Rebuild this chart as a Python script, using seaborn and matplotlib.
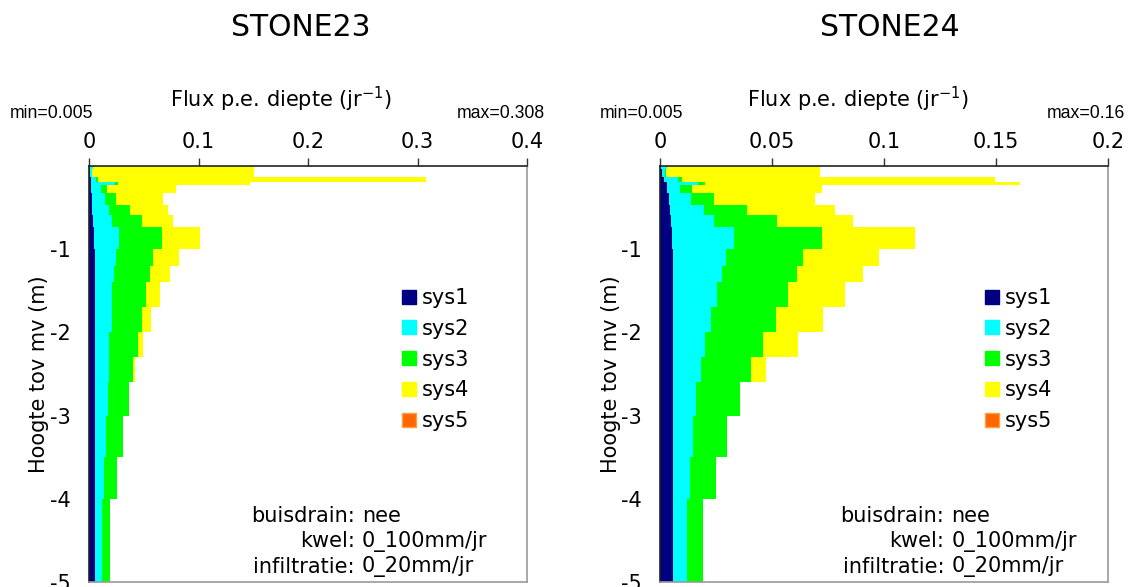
import numpy as np
import pandas as pd
import matplotlib
matplotlib.use("Agg")
import matplotlib.pyplot as plt
from matplotlib.patches import Patch
import seaborn as sns

# ---------------- data ----------------
systems = ["sys1", "sys2", "sys3", "sys4", "sys5"]
colors = {"sys1": "#000080", "sys2": "#00FFFF", "sys3": "#00FF00",
          "sys4": "#FFFF00", "sys5": "#FF6600"}

# layer boundaries (m below surface)
layer_top = [0, 0.04, 0.13, 0.19, 0.23, 0.33, 0.47, 0.59, 0.73, 1.0,
             1.2, 1.4, 1.7, 2.0, 2.3, 2.6, 3.0, 3.5, 4.0]
layer_bottom = [0.04, 0.13, 0.19, 0.23, 0.33, 0.47, 0.59, 0.73, 1.0, 1.2,
                1.4, 1.7, 2.0, 2.3, 2.6, 3.0, 3.5, 4.0, 5.0]

# STONE23 flux per depth (1/yr)
s23_sys1 = [0.0005, 0.001, 0.0015, 0.002, 0.002, 0.0025, 0.003, 0.0035, 0.0045, 0.0055,
            0.0055, 0.0055, 0.0055, 0.0055, 0.0055, 0.0055, 0.0055, 0.0055, 0.0055]
s23_sys2 = [0.0029, 0.002, 0.0049, 0.0219, 0.0087, 0.0122, 0.0156, 0.0173, 0.0233, 0.0193,
            0.0174, 0.0159, 0.0153, 0.0132, 0.0132, 0.0116, 0.0101, 0.0083, 0.0061]
s23_sys3 = [0.0, 0.0, 0.0021, 0.003, 0.0055, 0.0101, 0.019, 0.0275, 0.0389, 0.0336,
            0.0331, 0.0309, 0.0275, 0.0256, 0.0214, 0.0196, 0.0153, 0.0116, 0.0077]
s23_sys4 = [0.1476, 0.148, 0.2995, 0.1201, 0.0636, 0.0428, 0.0342, 0.0285, 0.0345, 0.0235,
            0.0177, 0.0122, 0.0083, 0.005, 0.0021, 0.0, 0.0, 0.0, 0.0]
s23_sys5 = [0.0] * 19

# STONE24 flux per depth (1/yr)
s24_sys1 = [0.0005, 0.001, 0.002, 0.003, 0.003, 0.004, 0.0045, 0.005, 0.0055, 0.006,
            0.006, 0.006, 0.006, 0.006, 0.006, 0.006, 0.006, 0.006, 0.006]
s24_sys2 = [0.0025, 0.0012, 0.0062, 0.0141, 0.0059, 0.0097, 0.0151, 0.0191, 0.0275, 0.0235,
            0.0215, 0.0196, 0.0168, 0.0141, 0.0122, 0.0099, 0.0089, 0.0074, 0.0059]
s24_sys3 = [0.0, 0.0003, 0.0015, 0.003, 0.0052, 0.0104, 0.0191, 0.028, 0.0395, 0.0345,
            0.0335, 0.0315, 0.029, 0.026, 0.0224, 0.0198, 0.0149, 0.0115, 0.0071]
s24_sys4 = [0.0684, 0.0689, 0.1399, 0.1406, 0.0581, 0.0451, 0.0394, 0.0342, 0.0413, 0.0339,
            0.0298, 0.0255, 0.0208, 0.0154, 0.0066, 0.0, 0.0, 0.0, 0.0]
s24_sys5 = [0.0] * 19

titles = ["STONE23", "STONE24"]
xlims = [0.4, 0.2]
xticks = [[0, 0.1, 0.2, 0.3, 0.4], [0, 0.05, 0.1, 0.15, 0.2]]
xticklabels = [["0", "0.1", "0.2", "0.3", "0.4"], ["0", "0.05", "0.1", "0.15", "0.2"]]
min_texts = ["min=0.005", "min=0.005"]
max_texts = ["max=0.308", "max=0.16"]
info_labels = ["buisdrain:", "kwel:", "infiltratie:"]
info_values = ["nee", "0_100mm/jr", "0_20mm/jr"]

panels = [
    [s23_sys1, s23_sys2, s23_sys3, s23_sys4, s23_sys5],
    [s24_sys1, s24_sys2, s24_sys3, s24_sys4, s24_sys5],
]

# ---------------- plot ----------------
sns.set_style("white")
plt.rcParams["font.family"] = ["DejaVu Sans"]
plt.rcParams["text.color"] = "black"
plt.rcParams["xtick.labelcolor"] = "black"
plt.rcParams["ytick.labelcolor"] = "black"
plt.rcParams["axes.labelcolor"] = "black"

fig = plt.figure(figsize=(11.35, 5.87), dpi=100)
ax_pos = [[89 / 1135, 5 / 587, 438 / 1135, 416 / 587],
          [660 / 1135, 5 / 587, 448 / 1135, 416 / 587]]
title_x = [301 / 1135, 890 / 1135]
xlabel_x = [0.438, 0.442]
min_x = [-0.180, -0.134]
max_x = [1.04, 1.038]
legend_x = [0.696, 0.7075]
info_x = [0.607, 0.634]
ylabel_pad = [1, 0]

edges = sorted([-d for d in layer_top] + [-layer_bottom[-1]])
mids = [-(t + b) / 2 for t, b in zip(layer_top, layer_bottom)]

for i in range(2):
    ax = fig.add_axes(ax_pos[i])
    rows = []
    for s, vals in zip(systems, panels[i]):
        for m, v in zip(mids, vals):
            rows.append({"system": s, "depth": m, "flux": v})
    df = pd.DataFrame(rows)
    sns.histplot(data=df, y="depth", weights="flux", hue="system",
                 hue_order=systems[::-1], palette=colors, bins=edges,
                 multiple="stack", element="bars", linewidth=0, alpha=1,
                 legend=False, ax=ax)
    ax.set_xlim(0, xlims[i])
    ax.set_ylim(-5, 0)
    ax.xaxis.tick_top()
    ax.set_xticks(xticks[i])
    ax.set_xticklabels(xticklabels[i], fontsize=15)
    ax.set_yticks([-1, -2, -3, -4, -5])
    ax.set_yticklabels(["-1", "-2", "-3", "-4", "-5"], fontsize=15)
    ax.tick_params(axis="x", direction="out", length=6, width=1, color="#333333", pad=4)
    ax.tick_params(axis="y", length=0, pad=13)
    ax.set_xlabel("")
    ax.text(xlabel_x[i], 1.159, "Flux p.e. diepte (jr$^{-1}$)", transform=ax.transAxes,
            fontsize=15, ha="center", va="center")
    ax.set_ylabel("Hoogte tov mv (m)", fontsize=15, labelpad=ylabel_pad[i])
    fig.text(title_x[i], 1 - 28 / 587, titles[i], fontsize=21.5, ha="center", va="center")
    for side in ["left", "top"]:
        ax.spines[side].set_color("#222222")
        ax.spines[side].set_linewidth(1.2)
    for side in ["right", "bottom"]:
        ax.spines[side].set_color("#999999")
        ax.spines[side].set_linewidth(1.2)

    ax.text(min_x[i], 1.125, min_texts[i], transform=ax.transAxes,
            fontsize=12.7, family="Liberation Sans", ha="left", va="center")
    ax.text(max_x[i], 1.125, max_texts[i], transform=ax.transAxes,
            fontsize=12.7, family="Liberation Sans", ha="right", va="center")

    handles = [Patch(facecolor=colors[s], edgecolor=("#FFA040" if s == "sys5" else colors[s]))
               for s in systems]
    ax.legend(handles, systems, loc="upper left",
              bbox_to_anchor=(legend_x[i], 0.727), frameon=False,
              fontsize=15, handlelength=0.65, handleheight=0.65,
              handletextpad=0.3, labelspacing=0.52, borderaxespad=0)

    xc = info_x[i]
    for k, (lab, val) in enumerate(zip(info_labels, info_values)):
        y = 0.159 - k * 0.061
        ax.text(xc, y, lab, transform=ax.transAxes, fontsize=15, ha="right", va="center")
        ax.text(xc + 0.016, y, val, transform=ax.transAxes, fontsize=15, ha="left", va="center")

fig.savefig("out.png", dpi=100)
